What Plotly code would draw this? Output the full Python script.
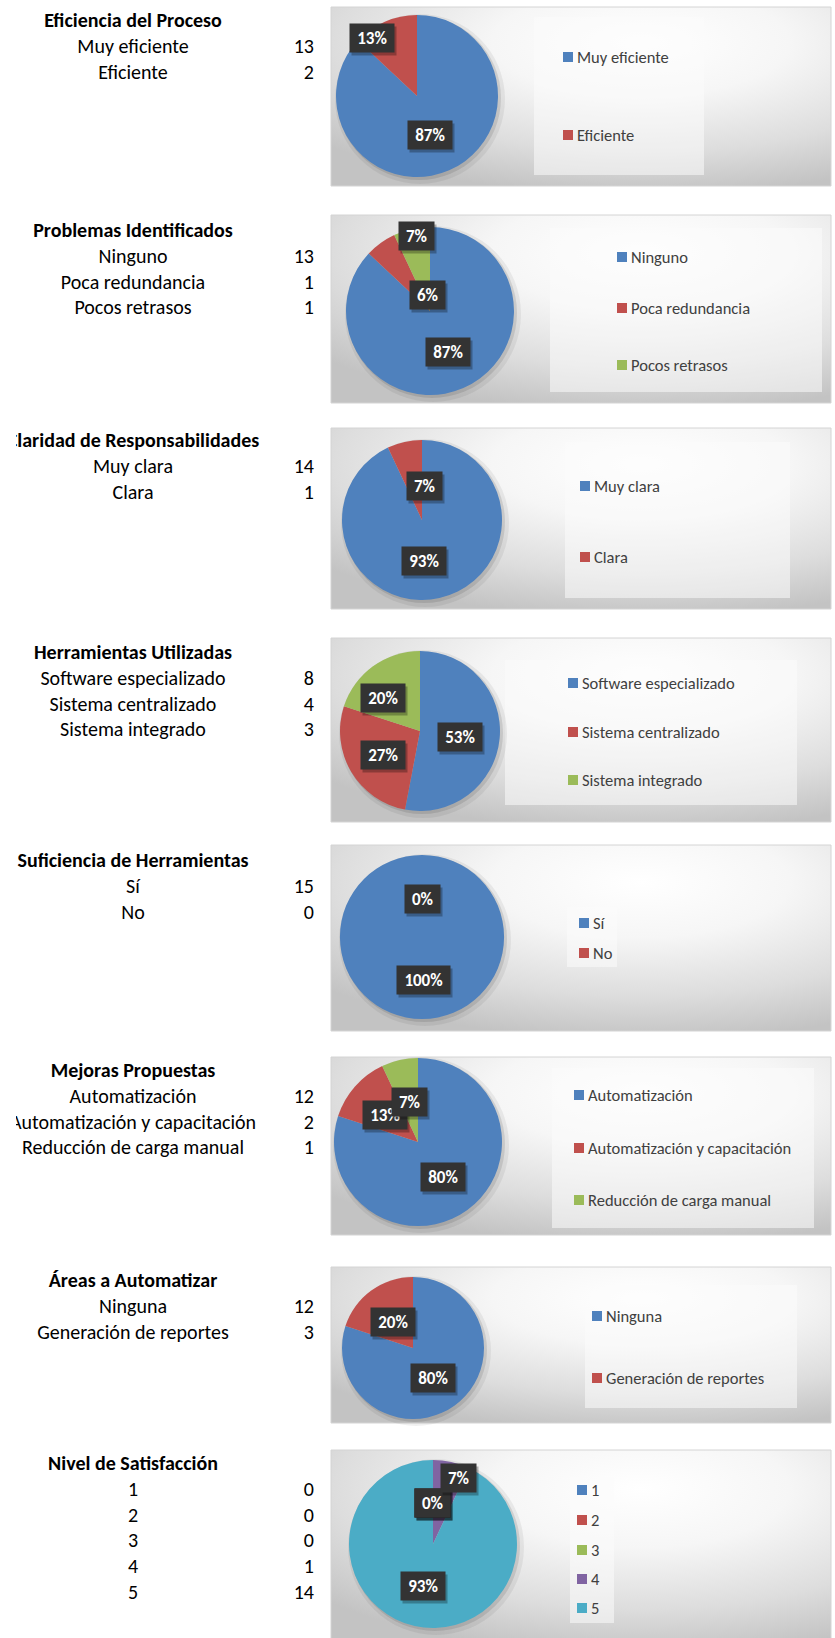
import base64
import plotly.graph_objects as go

# ---------------------------------------------------------------- data
eficiencia_titulo = "Eficiencia del Proceso"
eficiencia_cat = ["Muy eficiente", "Eficiente"]
eficiencia_n = [13, 2]
eficiencia_pct = [87, 13]

problemas_titulo = "Problemas Identificados"
problemas_cat = ["Ninguno", "Poca redundancia", "Pocos retrasos"]
problemas_n = [13, 1, 1]
problemas_pct = [87, 6, 7]

claridad_titulo = "Claridad de Responsabilidades"
claridad_cat = ["Muy clara", "Clara"]
claridad_n = [14, 1]
claridad_pct = [93, 7]

herramientas_titulo = "Herramientas Utilizadas"
herramientas_cat = ["Software especializado", "Sistema centralizado", "Sistema integrado"]
herramientas_n = [8, 4, 3]
herramientas_pct = [53, 27, 20]

suficiencia_titulo = "Suficiencia de Herramientas"
suficiencia_cat = ["Sí", "No"]
suficiencia_n = [15, 0]
suficiencia_pct = [100, 0]

mejoras_titulo = "Mejoras Propuestas"
mejoras_cat = ["Automatización", "Automatización y capacitación", "Reducción de carga manual"]
mejoras_n = [12, 2, 1]
mejoras_pct = [80, 13, 7]

areas_titulo = "Áreas a Automatizar"
areas_cat = ["Ninguna", "Generación de reportes"]
areas_n = [12, 3]
areas_pct = [80, 20]

satisfaccion_titulo = "Nivel de Satisfacción"
satisfaccion_cat = ["1", "2", "3", "4", "5"]
satisfaccion_n = [0, 0, 0, 1, 14]
satisfaccion_pct = [0, 0, 0, 7, 93]

# ---------------------------------------------------------------- layout
W, H = 835, 1638
FONT = "Carlito, Calibri, Lato, sans-serif"
PALETA = ["#4F81BD", "#C0504D", "#9BBB59", "#8064A2", "#4BACC6"]
TEXTO = "#000000"
LEYENDA_TXT = "#404040"

TABLA_X = (16, 330)   # visible span of the table column (text is cut at its edges)
COL_ETIQ_X = 133      # centre of the category column
COL_VAL_X = 314       # right edge of the count column
CAJA_X = (331, 831)   # chart frame left / right
PASO_FILA = 25.8

# one entry per block: frame top/bottom, title row, pie centre & radius,
# data-label offsets (from pie centre), legend box and legend rows
PANELES = [
    dict(titulo=eficiencia_titulo, cat=eficiencia_cat, n=eficiencia_n, pct=eficiencia_pct,
         caja=(7, 186), fila0=22, pie=(417, 96, 81),
         etiq=[(13, 39), (-45, -58)],
         ley_rect=(534, 704, 17, 175), ley_x=568, ley_y=[57, 135]),
    dict(titulo=problemas_titulo, cat=problemas_cat, n=problemas_n, pct=problemas_pct,
         caja=(215, 403), fila0=232, pie=(430, 311, 84),
         etiq=[(18, 41), (-3, -16), (-14, -75)],
         ley_rect=(550, 822, 228, 392), ley_x=622, ley_y=[257, 308, 365]),
    dict(titulo=claridad_titulo, cat=claridad_cat, n=claridad_n, pct=claridad_pct,
         caja=(428, 609), fila0=442, pie=(422, 520, 80),
         etiq=[(2, 41), (2, -34)],
         ley_rect=(565, 790, 442, 598), ley_x=585, ley_y=[486, 557]),
    dict(titulo=herramientas_titulo, cat=herramientas_cat, n=herramientas_n, pct=herramientas_pct,
         caja=(638, 822), fila0=654, pie=(420, 731, 80),
         etiq=[(40, 6), (-37, 24), (-37, -33)],
         ley_rect=(505, 797, 660, 805), ley_x=573, ley_y=[683, 732, 780]),
    dict(titulo=suficiencia_titulo, cat=suficiencia_cat, n=suficiencia_n, pct=suficiencia_pct,
         caja=(845, 1031), fila0=862, pie=(422, 937, 82),
         etiq=[(1, 43), (0, -38)],
         ley_rect=(567, 617, 907, 967), ley_x=584, ley_y=[923, 953]),
    dict(titulo=mejoras_titulo, cat=mejoras_cat, n=mejoras_n, pct=mejoras_pct,
         caja=(1057, 1235), fila0=1072, pie=(418, 1142, 84),
         etiq=[(25, 35), (-33, -27), (-9, -40)],
         ley_rect=(552, 814, 1068, 1228), ley_x=579, ley_y=[1095, 1148, 1200]),
    dict(titulo=areas_titulo, cat=areas_cat, n=areas_n, pct=areas_pct,
         caja=(1267, 1423), fila0=1282, pie=(413, 1348, 71),
         etiq=[(20, 30), (-20, -26)],
         ley_rect=(585, 797, 1285, 1408), ley_x=597, ley_y=[1316, 1378]),
    dict(titulo=satisfaccion_titulo, cat=satisfaccion_cat, n=satisfaccion_n, pct=satisfaccion_pct,
         caja=(1450, 1646), fila0=1465, pie=(433, 1544, 84),
         etiq=[(-1, -41), (-1, -41), (-1, -41), (25, -66), (-10, 42)],
         ley_rect=(570, 614, 1477, 1623), ley_x=582, ley_y=[1490, 1520, 1550, 1579, 1608]),
]

# soft grey radial fill used behind every chart
_svg = (
    "<svg xmlns='http://www.w3.org/2000/svg' viewBox='0 0 100 100' preserveAspectRatio='none'>"
    "<defs><radialGradient id='g' cx='0.62' cy='0.2' r='0.85' fx='0.62' fy='0.2'>"
    "<stop offset='0' stop-color='#ffffff'/>"
    "<stop offset='0.35' stop-color='#f6f6f6'/>"
    "<stop offset='0.72' stop-color='#dddddd'/>"
    "<stop offset='1' stop-color='#c3c3c3'/>"
    "</radialGradient></defs>"
    "<rect x='0' y='0' width='100' height='100' fill='url(#g)'/></svg>"
)
FONDO = "data:image/svg+xml;base64," + base64.b64encode(_svg.encode()).decode()

fig = go.Figure()
shapes, annotations, images = [], [], []


def px(x):
    return x / W


def py(y):
    return 1 - y / H


for p in PANELES:
    y0, y1 = p["caja"]
    x0, x1 = CAJA_X

    # chart frame
    images.append(dict(source=FONDO, xref="paper", yref="paper", x=px(x0), y=py(y0),
                       sizex=(x1 - x0) / W, sizey=(y1 - y0) / H, sizing="stretch",
                       xanchor="left", yanchor="top", layer="below"))
    shapes.append(dict(type="rect", xref="x", yref="y", x0=x0, x1=x1, y0=y0, y1=y1,
                       line=dict(color="#d4d4d4", width=1), fillcolor="rgba(0,0,0,0)",
                       layer="below"))

    # legend area
    lx0, lx1, ly0, ly1 = p["ley_rect"]
    shapes.append(dict(type="rect", xref="x", yref="y", x0=lx0, x1=lx1, y0=ly0, y1=ly1,
                       line=dict(width=0), fillcolor="rgba(252,252,252,0.55)", layer="below"))

    colores = PALETA[:len(p["cat"])]
    cx, cy, r = p["pie"]

    # soft shadow under the pie
    for off, grow, alpha in [(3, 4, 0.06), (2, 1, 0.10)]:
        shapes.append(dict(type="circle", xref="x", yref="y",
                           x0=cx - r - grow + off, x1=cx + r + grow + off,
                           y0=cy - r - grow + off, y1=cy + r + grow + off,
                           fillcolor="rgba(0,0,0,%.2f)" % alpha, line=dict(width=0),
                           layer="below"))

    # pie
    fig.add_trace(go.Pie(
        values=p["pct"], labels=p["cat"], sort=False, direction="clockwise", rotation=0,
        marker=dict(colors=colores, line=dict(width=0)),
        textinfo="none", hoverinfo="label+percent", showlegend=False,
        domain=dict(x=[px(cx - r), px(cx + r)], y=[py(cy + r), py(cy - r)]),
    ))

    # table: title, categories and counts (clipped to the column)
    filas_y = [p["fila0"] + PASO_FILA * (i + 1) for i in range(len(p["cat"]))]
    fig.add_trace(go.Scatter(
        x=[COL_ETIQ_X] * (len(p["cat"]) + 1), y=[p["fila0"]] + filas_y,
        text=["<b>" + p["titulo"] + "</b>"] + p["cat"],
        mode="text", textposition="middle center", cliponaxis=True,
        textfont=dict(family=FONT, size=20, color=TEXTO),
        xaxis="x2", yaxis="y2", hoverinfo="skip", showlegend=False,
    ))
    fig.add_trace(go.Scatter(
        x=[COL_VAL_X] * len(p["n"]), y=filas_y, text=[str(v) for v in p["n"]],
        mode="text", textposition="middle left", cliponaxis=True,
        textfont=dict(family=FONT, size=20, color=TEXTO),
        xaxis="x2", yaxis="y2", hoverinfo="skip", showlegend=False,
    ))

    # legend rows
    for c, col, yy in zip(p["cat"], colores, p["ley_y"]):
        shapes.append(dict(type="rect", xref="x", yref="y", x0=p["ley_x"] - 5, x1=p["ley_x"] + 5,
                           y0=yy - 5, y1=yy + 5, fillcolor=col, line=dict(width=0)))
        annotations.append(dict(x=p["ley_x"] + 7, y=yy, xref="x", yref="y", text=c,
                                showarrow=False, xanchor="left", yanchor="middle",
                                font=dict(family=FONT, size=16.5, color=LEYENDA_TXT)))

    # data labels (dark boxes with a drop shadow)
    for v, (dx, dy) in zip(p["pct"], p["etiq"]):
        txt = "<b>%d%%</b>" % v
        ancho = 9 * len("%d%%" % v) + 9
        comun = dict(xref="x", yref="y", text=txt, showarrow=False, xanchor="center",
                     yanchor="middle", width=ancho, height=20, borderpad=4)
        annotations.append(dict(x=cx + dx + 2, y=cy + dy + 3, bgcolor="rgba(0,0,0,0.28)",
                                font=dict(family=FONT, size=17, color="rgba(0,0,0,0)"), **comun))
        annotations.append(dict(x=cx + dx, y=cy + dy, bgcolor="#333333",
                                font=dict(family=FONT, size=17, color="#ffffff"), **comun))

fig.update_layout(
    width=W, height=H,
    margin=dict(l=0, r=0, t=0, b=0),
    paper_bgcolor="#ffffff", plot_bgcolor="rgba(0,0,0,0)",
    xaxis=dict(range=[0, W], visible=False, fixedrange=True),
    yaxis=dict(range=[H, 0], visible=False, fixedrange=True),
    xaxis2=dict(domain=[px(TABLA_X[0]), px(TABLA_X[1])], range=list(TABLA_X),
                visible=False, fixedrange=True, anchor="y2"),
    yaxis2=dict(domain=[0, 1], range=[H, 0], visible=False, fixedrange=True, anchor="x2"),
    shapes=shapes, annotations=annotations, images=images,
    showlegend=False,
)

fig.write_html("out.html")
